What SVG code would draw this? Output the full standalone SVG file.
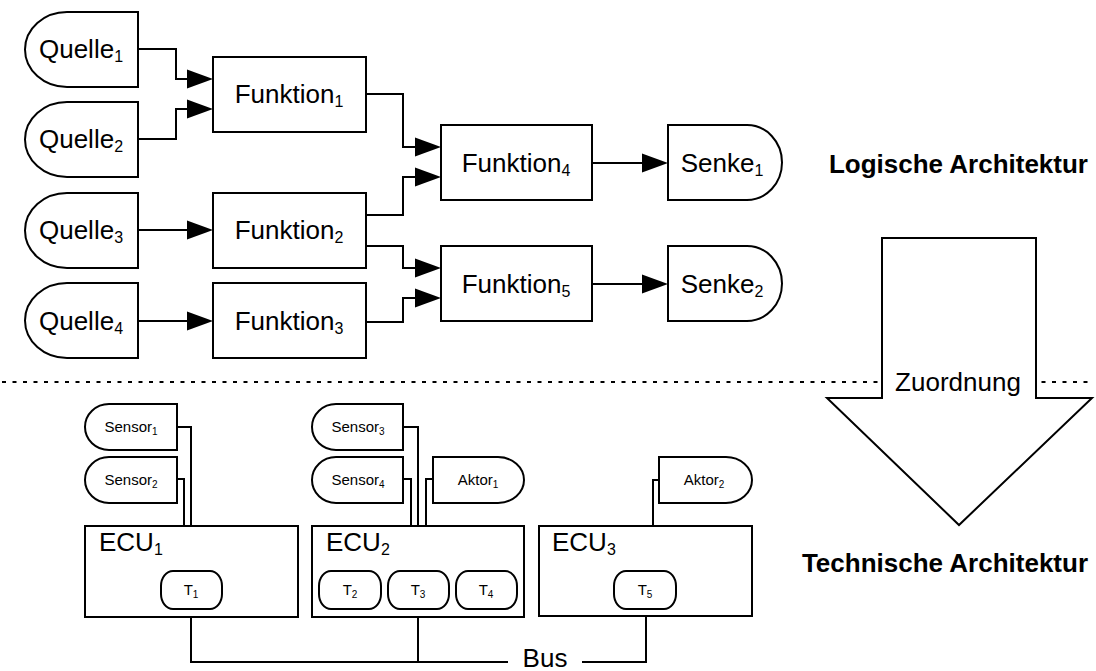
<svg xmlns="http://www.w3.org/2000/svg" width="1096" height="671" viewBox="0 0 1096 671">
  <style>
    .shape { fill: #fff; stroke: #000; stroke-width: 2; }
    .wire { fill: none; stroke: #000; stroke-width: 2; }
    .lbl { font-family: "Liberation Sans", Arial, Helvetica, sans-serif; font-size: 26px; fill: #000; text-anchor: middle; }
    .sm { font-family: "Liberation Sans", Arial, Helvetica, sans-serif; font-size: 15px; fill: #000; text-anchor: middle; }
    .sub { font-size: 16px; }
    .subsm { font-size: 10px; }
    .title { font-family: "Liberation Sans", Arial, Helvetica, sans-serif; font-size: 26px; font-weight: bold; fill: #000; text-anchor: end; }
  </style>
  <defs>
    <marker id="arrow" markerUnits="userSpaceOnUse" markerWidth="26" markerHeight="20" refX="6" refY="9.5" orient="auto" overflow="visible">
      <path d="M0,0 L26,9.5 L0,19 Z" fill="#000"/>
    </marker>
  </defs>

  <rect width="1096" height="671" fill="#fff"/>

  <!-- separator between logical and technical layer -->
  <line x1="2" y1="382" x2="1092" y2="382" stroke="#000" stroke-width="2" stroke-dasharray="4 6.5"/>

  <!-- mapping arrow -->
  <g id="zuordnung">
    <polygon class="shape" points="882,238 1036,238 1036,398 1092,398 959,525 827,398 882,398"/>
    <text class="lbl" x="958" y="391">Zuordnung</text>
  </g>

  <text class="title" x="1088" y="173">Logische Architektur</text>
  <text class="title" x="1088" y="572">Technische Architektur</text>

  <!-- logical architecture: connectors -->
  <g id="connectors">
    <path class="wire" marker-end="url(#arrow)" d="M138,49 H176 V79 H193"/>
    <path class="wire" marker-end="url(#arrow)" d="M138,139 H176 V109 H193"/>
    <path class="wire" marker-end="url(#arrow)" d="M138,230 H193"/>
    <path class="wire" marker-end="url(#arrow)" d="M138,321 H193"/>
    <path class="wire" marker-end="url(#arrow)" d="M366,94 H403 V147 H421"/>
    <path class="wire" marker-end="url(#arrow)" d="M366,215 H403 V177 H421"/>
    <path class="wire" marker-end="url(#arrow)" d="M366,246 H403 V268 H421"/>
    <path class="wire" marker-end="url(#arrow)" d="M366,322 H403 V298 H421"/>
    <path class="wire" marker-end="url(#arrow)" d="M592,163 H648"/>
    <path class="wire" marker-end="url(#arrow)" d="M592,284 H648"/>

    <!-- technical architecture: sensor/actuator wiring and bus -->
    <path class="wire" d="M177,427 H191 V526"/>
    <path class="wire" d="M177,479 H184 V526"/>
    <path class="wire" d="M403,427 H418 V526"/>
    <path class="wire" d="M403,479 H411 V526"/>
    <path class="wire" d="M433,479 H426 V526"/>
    <path class="wire" d="M659,480 H653 V526"/>
    <path class="wire" d="M191,617 V662 H508"/>
    <path class="wire" d="M418,617 V662"/>
    <path class="wire" d="M582,662 H646 V616"/>
  </g>
  <text class="lbl" x="545" y="667">Bus</text>

  <!-- sources -->
  <g id="quelle1"><path class="shape" d="M138,12 H67 A42,37.5 0 0 0 67,87 H138 Z"/><text class="lbl" x="81" y="58">Quelle<tspan class="sub" dy="4">1</tspan></text></g>
  <g id="quelle2"><path class="shape" d="M138,102 H67 A42,37.5 0 0 0 67,177 H138 Z"/><text class="lbl" x="81" y="148">Quelle<tspan class="sub" dy="4">2</tspan></text></g>
  <g id="quelle3"><path class="shape" d="M138,193 H67 A42,37.5 0 0 0 67,268 H138 Z"/><text class="lbl" x="81" y="239">Quelle<tspan class="sub" dy="4">3</tspan></text></g>
  <g id="quelle4"><path class="shape" d="M138,283 H67 A42,37.5 0 0 0 67,358 H138 Z"/><text class="lbl" x="81" y="330">Quelle<tspan class="sub" dy="4">4</tspan></text></g>

  <!-- functions -->
  <g id="funktion1"><rect class="shape" x="213" y="57" width="153" height="75"/><text class="lbl" x="289" y="103">Funktion<tspan class="sub" dy="4">1</tspan></text></g>
  <g id="funktion2"><rect class="shape" x="213" y="193" width="153" height="75"/><text class="lbl" x="289" y="239">Funktion<tspan class="sub" dy="4">2</tspan></text></g>
  <g id="funktion3"><rect class="shape" x="213" y="283" width="153" height="75"/><text class="lbl" x="289" y="330">Funktion<tspan class="sub" dy="4">3</tspan></text></g>
  <g id="funktion4"><rect class="shape" x="441" y="125" width="151" height="75"/><text class="lbl" x="516" y="172">Funktion<tspan class="sub" dy="4">4</tspan></text></g>
  <g id="funktion5"><rect class="shape" x="441" y="246" width="151" height="75"/><text class="lbl" x="516" y="293">Funktion<tspan class="sub" dy="4">5</tspan></text></g>

  <!-- sinks -->
  <g id="senke1"><path class="shape" d="M668,125 H747 A35,37.5 0 0 1 747,200 H668 Z"/><text class="lbl" x="722" y="172">Senke<tspan class="sub" dy="4">1</tspan></text></g>
  <g id="senke2"><path class="shape" d="M668,246 H747 A35,37.5 0 0 1 747,321 H668 Z"/><text class="lbl" x="722" y="293">Senke<tspan class="sub" dy="4">2</tspan></text></g>

  <!-- sensors and actuators -->
  <g id="sensor1"><path class="shape" d="M177,404 H109 A24,23 0 0 0 109,450 H177 Z"/><text class="sm" x="131" y="432">Sensor<tspan class="subsm" dy="3">1</tspan></text></g>
  <g id="sensor2"><path class="shape" d="M177,457 H109 A24,23 0 0 0 109,503 H177 Z"/><text class="sm" x="131" y="485">Sensor<tspan class="subsm" dy="3">2</tspan></text></g>
  <g id="sensor3"><path class="shape" d="M403,404 H336 A24,23 0 0 0 336,450 H403 Z"/><text class="sm" x="358" y="432">Sensor<tspan class="subsm" dy="3">3</tspan></text></g>
  <g id="sensor4"><path class="shape" d="M403,457 H336 A24,23 0 0 0 336,503 H403 Z"/><text class="sm" x="358" y="485">Sensor<tspan class="subsm" dy="3">4</tspan></text></g>
  <g id="aktor1"><path class="shape" d="M433,457 H498 A26,23 0 0 1 498,503 H433 Z"/><text class="sm" x="478" y="485">Aktor<tspan class="subsm" dy="3">1</tspan></text></g>
  <g id="aktor2"><path class="shape" d="M659,457 H726 A26,23 0 0 1 726,503 H659 Z"/><text class="sm" x="704" y="485">Aktor<tspan class="subsm" dy="3">2</tspan></text></g>

  <!-- control units with tasks -->
  <g id="ecu1">
    <rect class="shape" x="85" y="526" width="213" height="91"/>
    <text class="lbl" x="99" y="551" style="text-anchor:start">ECU<tspan class="sub" dy="4">1</tspan></text>
    <rect class="shape" x="161" y="571" width="61" height="38" rx="12" ry="15"/>
    <text class="sm" x="191" y="595">T<tspan class="subsm" dy="3">1</tspan></text>
  </g>
  <g id="ecu2">
    <rect class="shape" x="312" y="526" width="212" height="91"/>
    <text class="lbl" x="326" y="551" style="text-anchor:start">ECU<tspan class="sub" dy="4">2</tspan></text>
    <rect class="shape" x="319" y="571" width="62" height="38" rx="12" ry="15"/>
    <text class="sm" x="350" y="595">T<tspan class="subsm" dy="3">2</tspan></text>
    <rect class="shape" x="388" y="571" width="61" height="38" rx="12" ry="15"/>
    <text class="sm" x="418" y="595">T<tspan class="subsm" dy="3">3</tspan></text>
    <rect class="shape" x="456" y="571" width="61" height="38" rx="12" ry="15"/>
    <text class="sm" x="486" y="595">T<tspan class="subsm" dy="3">4</tspan></text>
  </g>
  <g id="ecu3">
    <rect class="shape" x="539" y="526" width="213" height="90"/>
    <text class="lbl" x="552" y="551" style="text-anchor:start">ECU<tspan class="sub" dy="4">3</tspan></text>
    <rect class="shape" x="614" y="571" width="62" height="38" rx="12" ry="15"/>
    <text class="sm" x="645" y="595">T<tspan class="subsm" dy="3">5</tspan></text>
  </g>
</svg>
